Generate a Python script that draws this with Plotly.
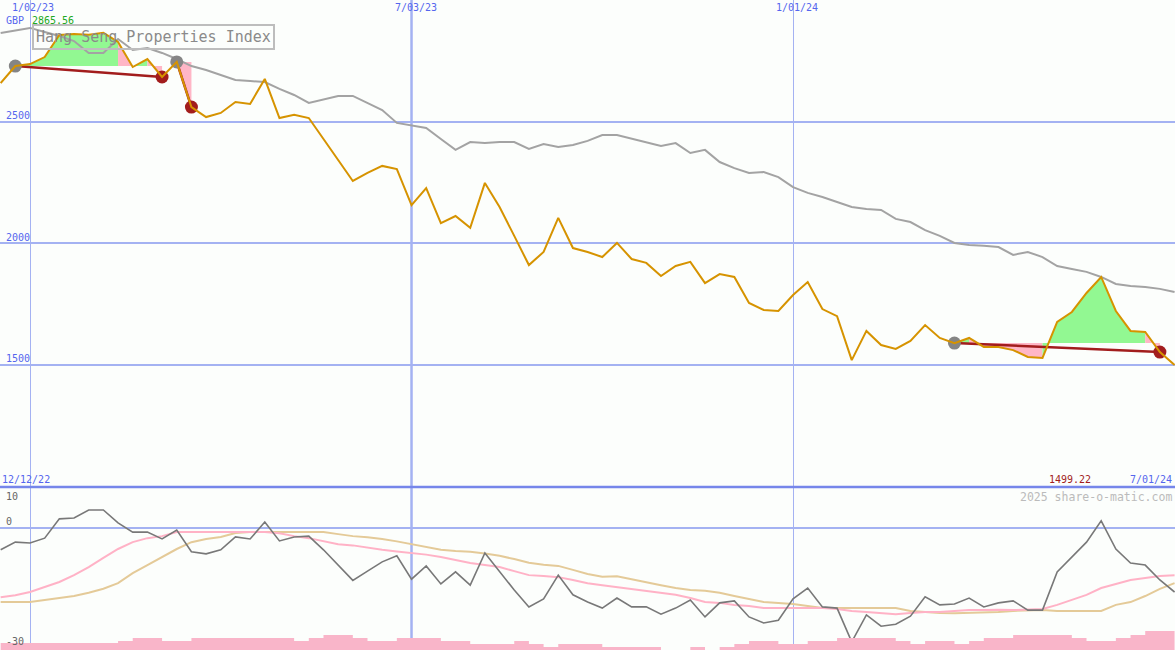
import pandas as pd
import plotly.graph_objects as go

# ---------------- data (weekly, 2022-12-19 .. 2024-07-01) ----------------
weeks = pd.date_range("2022-12-19", periods=81, freq="7D")

price = [2659, 2729, 2737, 2766, 2857, 2861, 2858, 2865.56, 2828, 2725,
         2758, 2684, 2746, 2560, 2519, 2536, 2581, 2573, 2676, 2515,
         2528, 2515, 2429, 2342, 2256, 2289, 2318, 2305, 2157, 2227,
         2083, 2112, 2063, 2248, 2149, 2030, 1910, 1964, 2104, 1980,
         1964, 1943, 2001, 1935, 1919, 1865, 1906, 1923, 1836, 1873,
         1861, 1754, 1725, 1721, 1787, 1840, 1729, 1700, 1519, 1639,
         1581, 1565, 1598, 1663, 1610, 1589, 1610, 1573, 1573, 1560,
         1532, 1528, 1676, 1717, 1795, 1861, 1721, 1639, 1635, 1552, 1499.22]

avg_line = [2865, 2877, 2886, 2869, 2853, 2832, 2783, 2783, 2840, 2795,
            2803, 2783, 2758, 2729, 2713, 2692, 2672, 2667, 2663, 2635,
            2610, 2577, 2593, 2606, 2606, 2577, 2548, 2495, 2486, 2474,
            2429, 2384, 2416, 2412, 2416, 2416, 2388, 2408, 2396, 2404,
            2421, 2445, 2445, 2429, 2416, 2400, 2412, 2371, 2384, 2334,
            2309, 2289, 2293, 2272, 2231, 2207, 2190, 2170, 2149, 2141,
            2137, 2100, 2087, 2054, 2030, 2001, 1993, 1989, 1984, 1952,
            1964, 1943, 1906, 1894, 1882, 1861, 1832, 1824, 1820, 1812, 1799]

momentum = [-5.5, -3.6, -3.8, -2.6, 2.2, 2.4, 4.4, 4.4, 1.2, -1.1,
            -1.1, -2.8, -0.6, -6.0, -6.5, -5.5, -2.3, -2.8, 1.4, -3.3,
            -2.3, -2.1, -5.5, -9.3, -13.1, -10.8, -8.5, -7.0, -12.8, -9.5,
            -14.0, -11.0, -14.3, -6.3, -11.0, -15.5, -19.7, -17.7, -11.8, -16.7,
            -18.5, -20.0, -17.5, -19.7, -19.7, -21.5, -20.0, -18.0, -22.2, -18.7,
            -18.2, -22.2, -23.7, -23.0, -17.7, -15.0, -19.7, -20.0, -28.4, -21.7,
            -24.5, -24.0, -22.0, -17.2, -19.2, -19.0, -17.5, -19.7, -18.7, -18.2,
            -20.5, -20.5, -11.0, -7.3, -3.6, 1.7, -5.3, -8.8, -9.3, -13.0, -16.0]

signal_fast = [-17.3, -16.8, -16.0, -14.7, -13.5, -11.8, -9.8, -7.5, -5.3, -3.6,
               -2.6, -2.1, -1.1, -1.1, -1.1, -1.1, -1.1, -1.1, -1.1, -1.4,
               -2.1, -2.6, -3.3, -4.1, -4.4, -5.0, -5.5, -5.9, -6.3, -6.7,
               -7.3, -8.0, -8.8, -9.3, -9.8, -10.8, -11.8, -12.0, -12.3, -13.0,
               -13.8, -14.3, -14.8, -15.2, -15.7, -16.2, -16.7, -17.5, -18.5, -18.7,
               -19.2, -19.5, -20.0, -20.0, -20.0, -20.0, -20.0, -20.2, -20.7, -21.0,
               -21.2, -21.5, -21.2, -21.0, -21.0, -20.7, -20.5, -20.5, -20.4, -20.5,
               -20.4, -20.2, -19.2, -18.0, -16.7, -15.0, -14.0, -13.0, -12.5, -12.0, -11.8]

signal_slow = [-18.5, -18.5, -18.5, -18.0, -17.5, -17.0, -16.2, -15.2, -13.8, -11.3,
               -9.3, -7.3, -5.3, -3.6, -2.8, -2.3, -1.3, -1.1, -1.1, -1.1,
               -1.1, -1.1, -1.1, -1.6, -2.1, -2.4, -2.8, -3.4, -4.1, -4.8,
               -5.5, -5.8, -6.0, -6.4, -7.0, -7.8, -8.7, -9.2, -9.5, -10.5,
               -11.5, -12.2, -12.1, -12.8, -13.6, -14.3, -15.0, -15.5, -15.7, -16.2,
               -17.0, -17.7, -18.5, -18.7, -19.0, -19.5, -20.0, -20.0, -20.0, -20.0,
               -20.0, -20.0, -20.7, -21.0, -21.2, -21.3, -21.2, -21.1, -21.0, -20.7,
               -20.6, -20.5, -20.7, -20.7, -20.7, -20.7, -19.2, -18.5, -17.0, -15.2, -13.8]

volume = [7, 7, 7, 7, 7, 7, 7, 7, 9, 12,
          12, 9, 9, 12, 12, 12, 12, 12, 12, 12,
          9, 12, 15, 15, 12, 9, 9, 12, 12, 12,
          9, 9, 6, 6, 6, 9, 6, 3, 6, 6,
          6, 3, 3, 3, 3, 0, 0, 3, 0, 3,
          6, 9, 9, 6, 6, 9, 9, 12, 12, 12,
          12, 9, 6, 9, 9, 6, 9, 12, 12, 15,
          15, 15, 15, 12, 9, 9, 12, 15, 19, 19, 19]

# trend segments: (start index, end index) into the weekly arrays
segments = [(1, 11), (12, 13), (65, 79)]

grid_dates = ["2023-01-02", "2023-07-03", "2024-01-01"]
date_labels = ["1/02/23", "7/03/23", "1/01/24"]
price_ticks = [2500, 2000, 1500]
low_ticks = [10, 0, -30]

title = "Hang Seng Properties Index"

# ---------------- style ----------------
W, H = 1175, 650
SPLIT = 487
BG = "#fcfefc"
GRID = "#a4b2f2"
DIV = "#7686ea"
BLUE_TXT = "#5566ee"
ORANGE = "#d69300"
GRAY = "#a3a3a3"
GREEN_F = "#92f892"
PINK_F = "#ffb6c6"
DARKRED = "#a21d1d"
MONO = "DejaVu Sans Mono"

d = list(weeks)
fig = go.Figure()

# fills between price and the level at each segment start
for s, e in segments:
    base = price[s]
    runs = []
    for i in range(s, e):
        col = GREEN_F if price[i + 1] >= base else PINK_F
        if runs and runs[-1][0] == col:
            runs[-1][2] = i + 1
        else:
            runs.append([col, i, i + 1])
    for col, a, b in runs:
        xs = [d[a]] + d[a:b + 1] + [d[b], d[a]]
        ys = [base] + price[a:b + 1] + [base, base]
        fig.add_trace(go.Scatter(x=xs, y=ys, mode="lines", fill="toself",
                                 fillcolor=col, line=dict(width=0),
                                 hoverinfo="skip", xaxis="x", yaxis="y"))

# comparison / average line
fig.add_trace(go.Scatter(x=d, y=avg_line, mode="lines",
                         line=dict(color=GRAY, width=2), xaxis="x", yaxis="y"))

# trend lines
for s, e in segments:
    fig.add_trace(go.Scatter(x=[d[s], d[e]], y=[price[s], price[e]], mode="lines",
                             line=dict(color=DARKRED, width=2.5), xaxis="x", yaxis="y"))

# dots
fig.add_trace(go.Scatter(x=[d[s] for s, e in segments], y=[price[s] for s, e in segments],
                         mode="markers", marker=dict(color="#858585", size=13, line=dict(width=0)),
                         xaxis="x", yaxis="y"))
fig.add_trace(go.Scatter(x=[d[e] for s, e in segments], y=[price[e] for s, e in segments],
                         mode="markers", marker=dict(color=DARKRED, size=13, line=dict(width=0)),
                         xaxis="x", yaxis="y"))

# price line
fig.add_trace(go.Scatter(x=d, y=price, mode="lines",
                         line=dict(color=ORANGE, width=2), xaxis="x", yaxis="y"))

# lower panel
fig.add_trace(go.Scatter(x=d, y=volume, mode="lines", line=dict(width=0, shape="hv"),
                         fill="tozeroy", fillcolor="#f9b5c9", xaxis="x2", yaxis="y3"))
fig.add_trace(go.Scatter(x=d, y=signal_slow, mode="lines",
                         line=dict(color="#e4ca98", width=2), xaxis="x2", yaxis="y2"))
fig.add_trace(go.Scatter(x=d, y=signal_fast, mode="lines",
                         line=dict(color="#ffb2c6", width=2), xaxis="x2", yaxis="y2"))
fig.add_trace(go.Scatter(x=d, y=momentum, mode="lines",
                         line=dict(color="#787878", width=1.6), xaxis="x2", yaxis="y2"))

xr = ["2022-12-18 16:30", "2024-07-01 05:00"]
low_dom = [0, 1 - SPLIT / H]
main_dom = [1 - SPLIT / H, 1]

axis_common = dict(showticklabels=False, ticks="", zeroline=False, showline=False)
fig.update_layout(
    width=W, height=H, margin=dict(l=0, r=0, t=0, b=0),
    paper_bgcolor=BG, plot_bgcolor=BG, showlegend=False,
    xaxis=dict(range=xr, domain=[0, 1], anchor="y", tickvals=grid_dates,
               showgrid=True, gridcolor=GRID, gridwidth=1, **axis_common),
    xaxis2=dict(range=xr, domain=[0, 1], anchor="y2", tickvals=grid_dates,
                showgrid=True, gridcolor=GRID, gridwidth=1, **axis_common),
    yaxis=dict(range=[996.7, 3000.8], domain=main_dom, anchor="x", tickvals=price_ticks,
               showgrid=True, gridcolor=GRID, gridwidth=2, **axis_common),
    yaxis2=dict(range=[-30.42, 10.12], domain=low_dom, anchor="x2", tickvals=[0],
                showgrid=True, gridcolor=GRID, gridwidth=2, **axis_common),
    yaxis3=dict(range=[0, 163], domain=low_dom, anchor="x2", overlaying="y2",
                showgrid=False, **axis_common),
)

# thicker mid-year line and panel divider
fig.add_shape(type="line", xref="x", yref="paper", x0=grid_dates[1], x1=grid_dates[1],
              y0=0, y1=1, line=dict(color=GRID, width=2.5), layer="below")
fig.add_shape(type="line", xref="paper", yref="paper", x0=0, x1=1,
              y0=1 - SPLIT / H, y1=1 - SPLIT / H, line=dict(color=DIV, width=2.5))


def px_ann(text, x, y, color, size=10, xanchor="left", **kw):
    fig.add_annotation(text=text, xref="paper", yref="paper", x=x / W, y=1 - y / H,
                       xanchor=xanchor, yanchor="middle", showarrow=False,
                       font=dict(family=MONO, size=size, color=color), **kw)


for lab, cx in zip(date_labels, [33, 416, 797]):
    px_ann(lab, cx, 7.5, BLUE_TXT, xanchor="center")
for t, cy in zip(price_ticks, [115.5, 237.3, 358.5]):
    px_ann(str(t), 4, cy, BLUE_TXT)
px_ann("GBP", 4, 20.5, BLUE_TXT)
px_ann(f"{max(price):.2f}", 30, 20.5, "#22a822")
px_ann("12/12/22", 0, 479, BLUE_TXT)
px_ann(f"{price[-1]:.2f}", 1093, 479, DARKRED, xanchor="right")
px_ann("7/01/24", 1174, 479, BLUE_TXT, xanchor="right")
px_ann("2025 share-o-matic.com", 1174, 496.5, "#bbbbbb", size=11.5, xanchor="right")
for t, cy in zip(low_ticks, [496, 521.5, 641]):
    px_ann(str(t), 4, cy, "#666666")

fig.add_annotation(text=title, xref="paper", yref="paper", x=32 / W, y=1 - 24 / H,
                   xanchor="left", yanchor="top", showarrow=False,
                   font=dict(family=MONO, size=15, color="#8a8a8a"),
                   bordercolor="#bdbdbd", borderwidth=2, borderpad=2, bgcolor="rgba(0,0,0,0)")

fig.write_html("out.html", config={"displayModeBar": False},
               post_script="document.body.style.margin='0';document.body.style.overflow='hidden';")
